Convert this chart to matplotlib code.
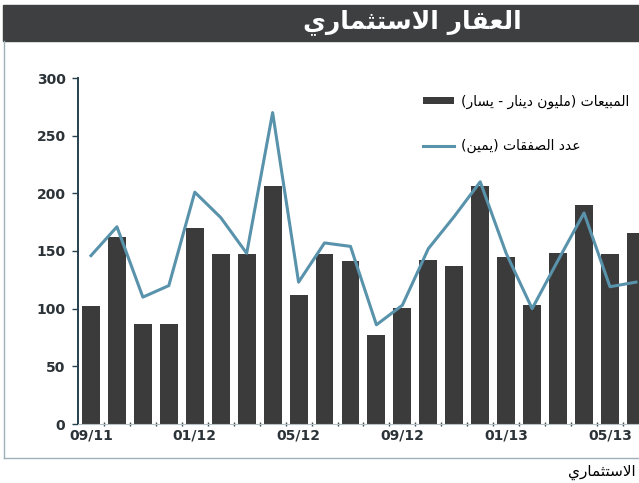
import matplotlib
matplotlib.use("Agg")
import matplotlib.pyplot as plt
from matplotlib.patches import Rectangle
from matplotlib.lines import Line2D

# data
months = [
    "09/11", "10/11", "11/11", "12/11", "01/12", "02/12", "03/12", "04/12",
    "05/12", "06/12", "07/12", "08/12", "09/12", "10/12", "11/12", "12/12",
    "01/13", "02/13", "03/13", "04/13", "05/13", "06/13",
]
sales = [102, 162, 87, 87, 170, 147, 147, 206, 112, 147, 141, 77,
         101, 142, 137, 206, 145, 103, 148, 190, 147, 166]
deals = [146, 171, 110, 120, 201, 179, 148, 270, 123, 157, 154, 86,
         103, 152, 180, 210, 148, 100, 142, 183, 119, 123]
y_ticks = [0, 50, 100, 150, 200, 250, 300]

title_text = "العقار الاستثماري"
caption_text = "الاستثماري"
sales_label = "المبيعات (مليون دينار - يسار)"
deals_label = "عدد الصفقات (يمين)"

BAR_COLOR = "#3b3b3b"
LINE_COLOR = "#5892ab"

# minimal arabic shaping: (isolated form, joins to next letter)
FORMS = {
    "ا": (0xFE8D, False), "ب": (0xFE8F, True), "ت": (0xFE95, True),
    "ث": (0xFE99, True), "د": (0xFEA9, False), "ر": (0xFEAD, False),
    "س": (0xFEB1, True), "ص": (0xFEB9, True), "ع": (0xFEC9, True),
    "ف": (0xFED1, True), "ق": (0xFED5, True), "ل": (0xFEDD, True),
    "م": (0xFEE1, True), "ن": (0xFEE5, True), "و": (0xFEED, False),
    "ي": (0xFEF1, True),
}


def shape(text):
    out = []
    i = 0
    n = len(text)
    while i < n:
        c = text[i]
        if c not in FORMS:
            out.append(c)
            i += 1
            continue
        prev = text[i - 1] if i > 0 else ""
        join_prev = prev in FORMS and FORMS[prev][1]
        if c == "ل" and i + 1 < n and text[i + 1] == "ا":
            out.append(chr(0xFEFC if join_prev else 0xFEFB))
            i += 2
            continue
        base, dual = FORMS[c]
        nxt = text[i + 1] if i + 1 < n else ""
        join_next = dual and nxt in FORMS
        if join_prev and join_next:
            code = base + 3
        elif join_prev:
            code = base + 1
        elif join_next:
            code = base + 2
        else:
            code = base
        out.append(chr(code))
        i += 1
    visual = "".join(reversed(out))
    return visual.translate(str.maketrans("()", ")("))


def main():

    plt.rcParams["font.family"] = ["DejaVu Sans"]

    fig = plt.figure(figsize=(6.39, 4.83), dpi=100)
    W, H = 639, 483

    # title band
    fig.patches.append(Rectangle(
        (3 / W, 1 - 41 / H), 636 / W, 36 / H,
        transform=fig.transFigure, color="#3d3f40", zorder=0
    ))
    fig.text(412 / W, 1 - 22 / H, shape(title_text), color="white",
             fontsize=18, fontweight="bold", ha="center", va="center")

    # panel frame
    fig.lines.append(Line2D([4 / W, 4 / W], [1 - 41 / H, 1 - 458 / H],
                            transform=fig.transFigure, color="#9fb0b8", lw=1))
    fig.lines.append(Line2D([4 / W, 1], [1 - 458 / H, 1 - 458 / H],
                            transform=fig.transFigure, color="#9fb0b8", lw=1))
    fig.text(568 / W, 1 - 472 / H, shape(caption_text), color="black",
             fontsize=11, ha="left", va="center")

    left = 78 / W
    bottom = 1 - 424 / H
    height = (424 - 78) / H
    n_span = 23
    width = n_span * 25.95 / W
    ax = fig.add_axes([left, bottom, width, height])

    x = list(range(len(months)))
    bars = ax.bar(x, sales, width=0.69, color=BAR_COLOR, zorder=2)
    line, = ax.plot(x, deals, color=LINE_COLOR, lw=2.2, zorder=3)

    ax.set_xlim(-0.5, n_span - 0.5)
    ax.set_ylim(0, 300)
    ax.set_yticks(y_ticks)
    ax.set_xticks(x[::4])
    ax.set_xticklabels(months[::4])
    ax.set_xticks([i + 0.5 for i in x[:-1]], minor=True)

    for side in ["top", "right"]:
        ax.spines[side].set_visible(False)
    ax.spines["left"].set_color("#26404d")
    ax.spines["left"].set_linewidth(1.4)
    ax.spines["bottom"].set_color("#b7c2c8")
    ax.spines["bottom"].set_linewidth(0.8)

    ax.tick_params(axis="y", length=4, width=1, color="#26404d",
                   labelsize=10, labelcolor="#2c3338", pad=5)
    ax.tick_params(axis="x", which="major", length=0,
                   labelsize=10, labelcolor="#2c3338", pad=3)
    ax.tick_params(axis="x", which="minor", length=3, width=1,
                   color="#3c4a52", direction="inout")
    for lab in ax.get_xticklabels() + ax.get_yticklabels():
        lab.set_fontweight("bold")

    fig.legend(
        [bars, line],
        [shape(sales_label), shape(deals_label)],
        loc="upper left",
        bbox_to_anchor=(410 / W, 1 - 82 / H),
        frameon=False,
        fontsize=10,
        handlelength=2.3,
        handleheight=0.45,
        handletextpad=0.45,
        labelspacing=2.2,
    )

    plt.savefig("out.png", dpi=100)
    plt.close()


if __name__ == "__main__":
    main()
